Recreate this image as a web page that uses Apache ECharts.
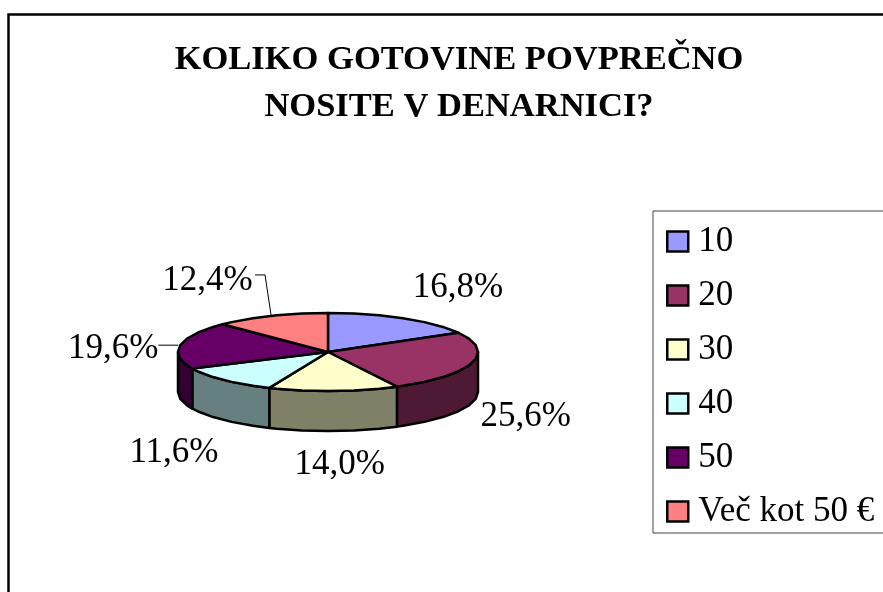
<!DOCTYPE html>
<html><head><meta charset="utf-8">
<style>html,body{margin:0;padding:0;background:#fff}#c{width:883px;height:592px}</style>
<script src="https://cdn.jsdelivr.net/npm/echarts@6/dist/echarts.min.js"></script>
</head><body><div id="c"></div>
<script>
const categories = ['10','20','30','40','50','Več kot 50 €'];
const values = [16.8,25.6,14.0,11.6,19.6,12.4];
const percentLabels = ['16,8%','25,6%','14,0%','11,6%','19,6%','12,4%'];
const titleText = 'KOLIKO GOTOVINE POVPREČNO\nNOSITE V DENARNICI?';
const topColors = ['#9999FF','#993366','#FFFFCC','#CCFFFF','#660066','#FF8080'];
const sideColors = ['#4D4D80','#4D1933','#808066','#668080','#330033','#804040'];

const FONT = '"Liberation Serif","Times New Roman",serif';
const pie = {cx:328, cy:352, rx:150, ry:39, depth:40, step:10};
const labelOffsets = [[54.5,-30],[54,54],[6,74],[-50,73],[-67,4],[-63.5,-35]];
const leaderOffsets = [null,null,null,null,[[-2,0],[-22,0]],[[0,-1],[-6,-41],[-16,-41]]];

const total = values.reduce((a,b)=>a+b,0);
function rim(deg, drop){
  const t = deg*Math.PI/180;
  return [pie.cx+pie.rx*Math.sin(t), pie.cy-pie.ry*Math.cos(t)+(drop||0)];
}
function arc(a,b,drop){
  const pts=[]; 
  const first=Math.ceil(a/pie.step)*pie.step;
  pts.push(rim(a,drop));
  for(let d=first;d<b;d+=pie.step){ if(d>a) pts.push(rim(d,drop)); }
  pts.push(rim(b,drop));
  return pts;
}
function makeSeries(i){
  const before = values.slice(0,i).reduce((a,b)=>a+b,0);
  return {
    type:'custom', name:categories[i], coordinateSystem:'none',
    itemStyle:{color:topColors[i]}, silent:true, animation:false,
    data:[[values[i]]],
    renderItem:function(params,api){
      const v = api.value(0);
      const a0 = before/total*360, a1 = (before+v)/total*360;
      const children=[];
      const w0=Math.max(a0,90), w1=Math.min(a1,270);
      if(w1>w0){
        const pts=arc(w0,w1,0).concat(arc(w0,w1,pie.depth).reverse());
        children.push({type:'polygon',shape:{points:pts},
          style:{fill:sideColors[i],stroke:'#000',lineWidth:2.5,lineJoin:'round'}});
      }
      const top=[[pie.cx,pie.cy]].concat(arc(a0,a1,0));
      children.push({type:'polygon',shape:{points:top},
        style:{fill:topColors[i],stroke:'#000',lineWidth:2.5,lineJoin:'round'}});
      const m=rim((a0+a1)/2);
      const off=labelOffsets[i];
      children.push({type:'text',style:{text:percentLabels[i],x:m[0]+off[0],y:m[1]+off[1],
        font:'35px '+FONT,fill:'#000',align:'center',verticalAlign:'middle'}});
      if(leaderOffsets[i]){
        children.push({type:'polyline',shape:{points:leaderOffsets[i].map(o=>[m[0]+o[0],m[1]+o[1]])},
          style:{fill:null,stroke:'#000',lineWidth:1}});
      }
      return {type:'group',children};
    }
  };
}
const chart = echarts.init(document.getElementById('c'),null,{renderer:'canvas'});
chart.setOption({
  animation:false,
  backgroundColor:'#fff',
  title:{text:titleText,left:454,top:32,textAlign:'center',
    textStyle:{fontFamily:FONT,fontWeight:'bold',fontSize:34.5,lineHeight:47,color:'#000'}},
  legend:{orient:'vertical',left:653,top:211,data:categories,
    padding:[13,60,4,13],itemGap:19,itemWidth:21,itemHeight:20,
    backgroundColor:'#fff',borderColor:'#444',borderWidth:1,
    icon:'rect',selectedMode:false,
    itemStyle:{borderColor:'#000',borderWidth:2.5},
    textStyle:{fontFamily:FONT,fontSize:35,lineHeight:34,color:'#000',padding:[0,0,0,5]}},
  graphic:[{type:'rect',shape:{x:8.5,y:14.5,width:1200,height:1200},z:-1,
    style:{fill:'none',stroke:'#000',lineWidth:2.5}}],
  series:categories.map((c,i)=>makeSeries(i))
});
</script></body></html>
